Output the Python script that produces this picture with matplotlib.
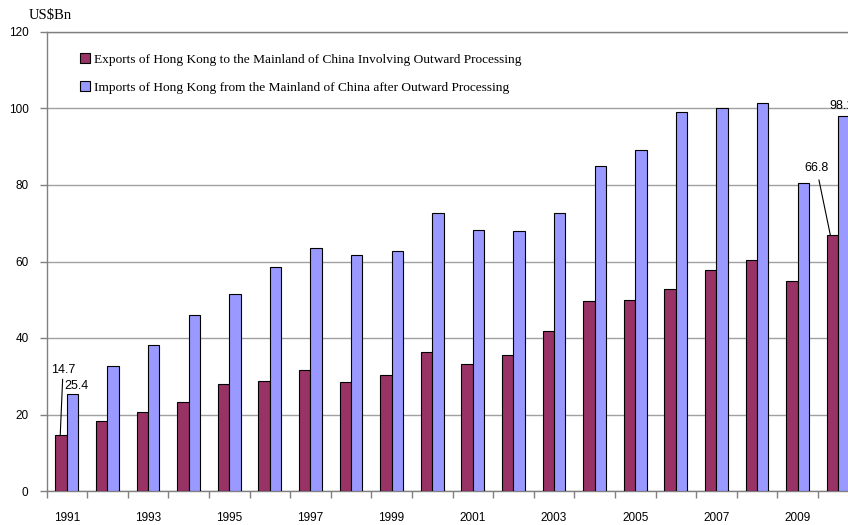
import numpy as np
import matplotlib
matplotlib.use("Agg")
import matplotlib.pyplot as plt

years = list(range(1991, 2011))
exports = [14.7, 18.3, 20.6, 23.2, 28.0, 28.7, 31.6, 28.6, 30.3, 36.3,
           33.2, 35.6, 41.8, 49.7, 49.9, 52.8, 57.8, 60.4, 54.9, 66.8]
imports = [25.4, 32.7, 38.2, 46.0, 51.6, 58.6, 63.5, 61.7, 62.8, 72.8,
           68.2, 68.1, 72.7, 85.0, 89.1, 99.1, 100.1, 101.4, 80.5, 98.1]
exp_label = "Exports of Hong Kong to the Mainland of China Involving Outward Processing"
imp_label = "Imports of Hong Kong from the Mainland of China after Outward Processing"

SANS = ["Liberation Sans", "DejaVu Sans"]
SERIF = ["Liberation Serif", "DejaVu Serif"]
W = 0.283

fig = plt.figure(figsize=(8.48, 5.25), dpi=100)
# axes run a little past the right edge, like the original (clipped) chart
ax = fig.add_axes([46.5 / 848, 34 / 525, 812 / 848, 459 / 525])

x = np.arange(len(years))
ax.bar(x - W / 2, exports, W, color="#993366", edgecolor="black", linewidth=0.8,
       label=exp_label, zorder=3)
ax.bar(x + W / 2, imports, W, color="#9999FF", edgecolor="black", linewidth=0.8,
       label=imp_label, zorder=3)

ax.set_xlim(-0.5, len(years) - 0.5)
ax.set_ylim(0, 120)
ax.set_yticks(range(0, 121, 20))
ax.yaxis.grid(True, color="#a0a0a0", linewidth=1, zorder=0)
ax.tick_params(axis="y", length=5, width=1, color="#808080", labelsize=8.5, pad=8)
for t in ax.get_yticklabels():
    t.set_family(SANS)

# boundary ticks, labels at group centres for odd years
ax.set_xticks(np.arange(-0.5, len(years), 1))
ax.set_xticklabels([])
ax.tick_params(axis="x", which="major", length=5, width=1, color="#808080")
ax.set_xticks(x, minor=True)
ax.set_xticklabels([str(y) if (y - 1991) % 2 == 0 else "" for y in years], minor=True,
                   family=SANS, fontsize=8.5)
ax.tick_params(axis="x", which="minor", length=0, pad=15)

for s in ["left", "bottom", "top"]:
    ax.spines[s].set_color("#808080")
    ax.spines[s].set_linewidth(1)
ax.spines["right"].set_visible(False)

fig.text(29 / 848, 1 - 15 / 525, "US$Bn", family=SERIF, fontsize=10.5, va="center", ha="left")

leg = ax.legend(loc="upper left", bbox_to_anchor=(0.026, 0.98), frameon=False,
                prop={"family": SERIF, "size": 9.6}, handlelength=0.8, handleheight=0.8,
                handletextpad=0.25, labelspacing=1.15)

ann = dict(fontsize=9, family=SANS, textcoords="offset points")
ax.annotate("14.7", xy=(0 - W / 2 - 0.02, exports[0]), xytext=(2, 42), ha="center", va="bottom",
            arrowprops=dict(arrowstyle="-", color="black", linewidth=0.8, shrinkA=0, shrinkB=0), **ann)
ax.annotate("25.4", xy=(0 + W / 2, imports[0]), xytext=(3, 1), ha="center", va="bottom", **ann)
ax.annotate("66.8", xy=(19 - W / 2 - 0.05, exports[19]), xytext=(-10, 44), ha="center", va="bottom",
            arrowprops=dict(arrowstyle="-", color="black", linewidth=0.8, shrinkA=2, shrinkB=0), **ann)
ax.annotate("98.1", xy=(19 + W / 2, imports[19]), xytext=(-2, 3), ha="center", va="bottom", **ann)

fig.savefig("out.png", dpi=100)
